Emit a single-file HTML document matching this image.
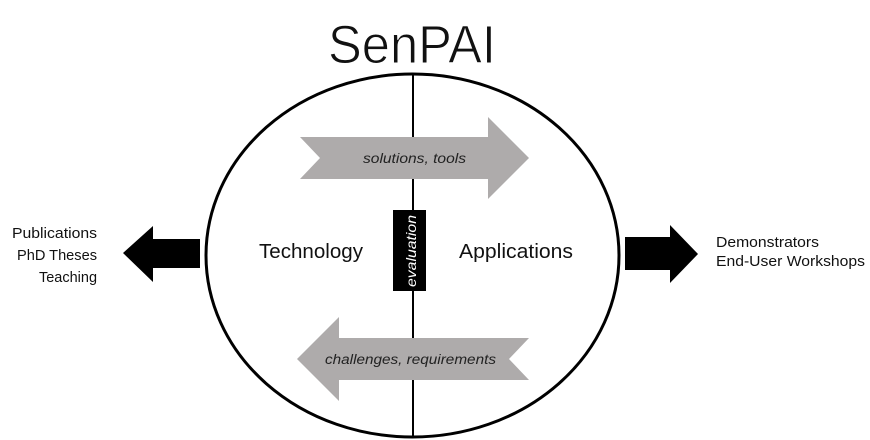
<!DOCTYPE html>
<html>
<head>
<meta charset="utf-8">
<style>
  html, body { margin: 0; padding: 0; background: #ffffff; }
  body { width: 870px; height: 440px; overflow: hidden; }
  svg { display: block; }
</style>
</head>
<body>
<svg width="870" height="440" viewBox="0 0 870 440" xmlns="http://www.w3.org/2000/svg">
  <rect x="0" y="0" width="870" height="440" fill="#ffffff"/>

  <!-- Title -->
  <text x="412" y="63" font-family="'Liberation Sans', 'DejaVu Sans', sans-serif" font-size="54" fill="#111" stroke="#ffffff" stroke-width="1" text-anchor="middle" textLength="168" lengthAdjust="spacingAndGlyphs">SenPAI</text>

  <!-- Big ellipse -->
  <ellipse cx="412.5" cy="255.5" rx="206.5" ry="181.5" fill="none" stroke="#000" stroke-width="3"/>

  <!-- vertical divider -->
  <line x1="413" y1="74" x2="413" y2="437" stroke="#000" stroke-width="2"/>

  <!-- Top gray arrow (right) -->
  <polygon points="300,137 488,137 488,117 529,158 488,199 488,179 300,179 320,158" fill="#aeabab"/>
  <text x="414.5" y="163" font-family="'Liberation Sans', sans-serif" font-style="italic" font-size="13.5" fill="#222" text-anchor="middle" textLength="103" lengthAdjust="spacingAndGlyphs">solutions, tools</text>

  <!-- Bottom gray arrow (left) -->
  <polygon points="529,338 339,338 339,317 297,359 339,401 339,380 529,380 509,359" fill="#aeabab"/>
  <text x="410.5" y="364" font-family="'Liberation Sans', sans-serif" font-style="italic" font-size="13.5" fill="#222" text-anchor="middle" textLength="171" lengthAdjust="spacingAndGlyphs">challenges, requirements</text>

  <!-- evaluation box -->
  <rect x="393" y="210" width="33" height="81" fill="#000"/>
  <text transform="translate(416,251) rotate(-90)" x="0" y="0" font-family="'Liberation Sans', sans-serif" font-style="italic" font-size="14" fill="#ffffff" text-anchor="middle" textLength="72" lengthAdjust="spacingAndGlyphs">evaluation</text>

  <!-- Technology / Applications -->
  <text x="311" y="258" font-family="'Liberation Sans', sans-serif" font-size="20" fill="#111" text-anchor="middle" textLength="104" lengthAdjust="spacingAndGlyphs">Technology</text>
  <text x="516" y="258" font-family="'Liberation Sans', sans-serif" font-size="20" fill="#111" text-anchor="middle" textLength="114" lengthAdjust="spacingAndGlyphs">Applications</text>

  <!-- Left black arrow -->
  <polygon points="200,239 153,239 153,226 123,253 153,282 153,268 200,268" fill="#000"/>

  <!-- Right black arrow -->
  <polygon points="625,237 670,237 670,225 698,254 670,283 670,270 625,270" fill="#000"/>

  <!-- Left text -->
  <g font-family="'Liberation Sans', sans-serif" font-size="14.5" fill="#111" text-anchor="end">
    <text x="97" y="238" textLength="85" lengthAdjust="spacingAndGlyphs">Publications</text>
    <text x="97" y="260" textLength="80" lengthAdjust="spacingAndGlyphs">PhD Theses</text>
    <text x="97" y="282" textLength="58" lengthAdjust="spacingAndGlyphs">Teaching</text>
  </g>

  <!-- Right text -->
  <g font-family="'Liberation Sans', sans-serif" font-size="14.5" fill="#111">
    <text x="716" y="247" textLength="103" lengthAdjust="spacingAndGlyphs">Demonstrators</text>
    <text x="716" y="266" textLength="149" lengthAdjust="spacingAndGlyphs">End-User Workshops</text>
  </g>
</svg>
</body>
</html>
